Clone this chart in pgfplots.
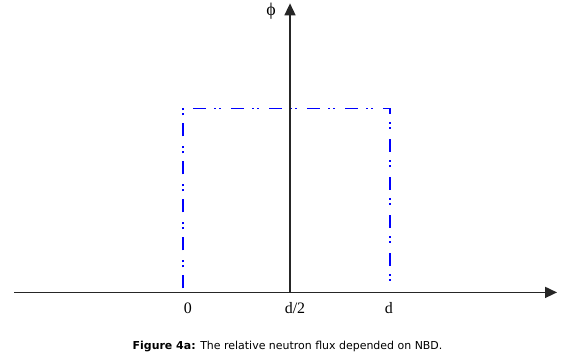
\documentclass[border=0pt]{standalone}
\usepackage{pgfplots}
\pgfplotsset{compat=1.18}
\usepackage{fontspec}
\setmainfont{Liberation Serif}
\newfontfamily\capfont{DejaVu Sans}
\usetikzlibrary{arrows.meta}
\begin{document}
\begin{tikzpicture}
\begin{axis}[
  scale only axis, width=586bp, height=359bp,
  xmin=-0.8841, xmax=1.9469, ymin=-0.3696, ymax=1.5815,
  axis lines=none, clip=false,
]
\path (axis cs:-0.8841,-0.3696) rectangle (axis cs:1.9469,1.5815);
\addplot[blue, line width=1.8bp, dash pattern=on 13bp off 8bp on 2bp off 3bp on 2bp off 10bp]
  coordinates {(0,0.022) (0,1) (1,1) (1,0.022)};
\draw[black!85, line width=1.6bp, -{Triangle[length=12bp, width=11bp]}]
  (axis cs:-0.816,0) -- (axis cs:1.807,0);
\draw[black!85, line width=1.6bp, -{Triangle[length=12bp, width=11bp]}]
  (axis cs:0.517,0) -- (axis cs:0.517,1.571);
\node[font=\fontsize{16}{18}\selectfont] at (axis cs:0.024,-0.087) {0};
\node[font=\fontsize{16}{18}\selectfont] at (axis cs:0.541,-0.087) {d/2};
\node[font=\fontsize{16}{18}\selectfont] at (axis cs:0.995,-0.087) {d};
\node[font=\fontsize{18}{20}\selectfont] at (axis cs:0.425,1.527) {ϕ};
\node[font=\capfont\fontsize{11}{13}\selectfont] at (axis cs:0.505,-0.293)
  {\textbf{Figure 4a:} The relative neutron flux depended on NBD.};
\end{axis}
\end{tikzpicture}
\end{document}
